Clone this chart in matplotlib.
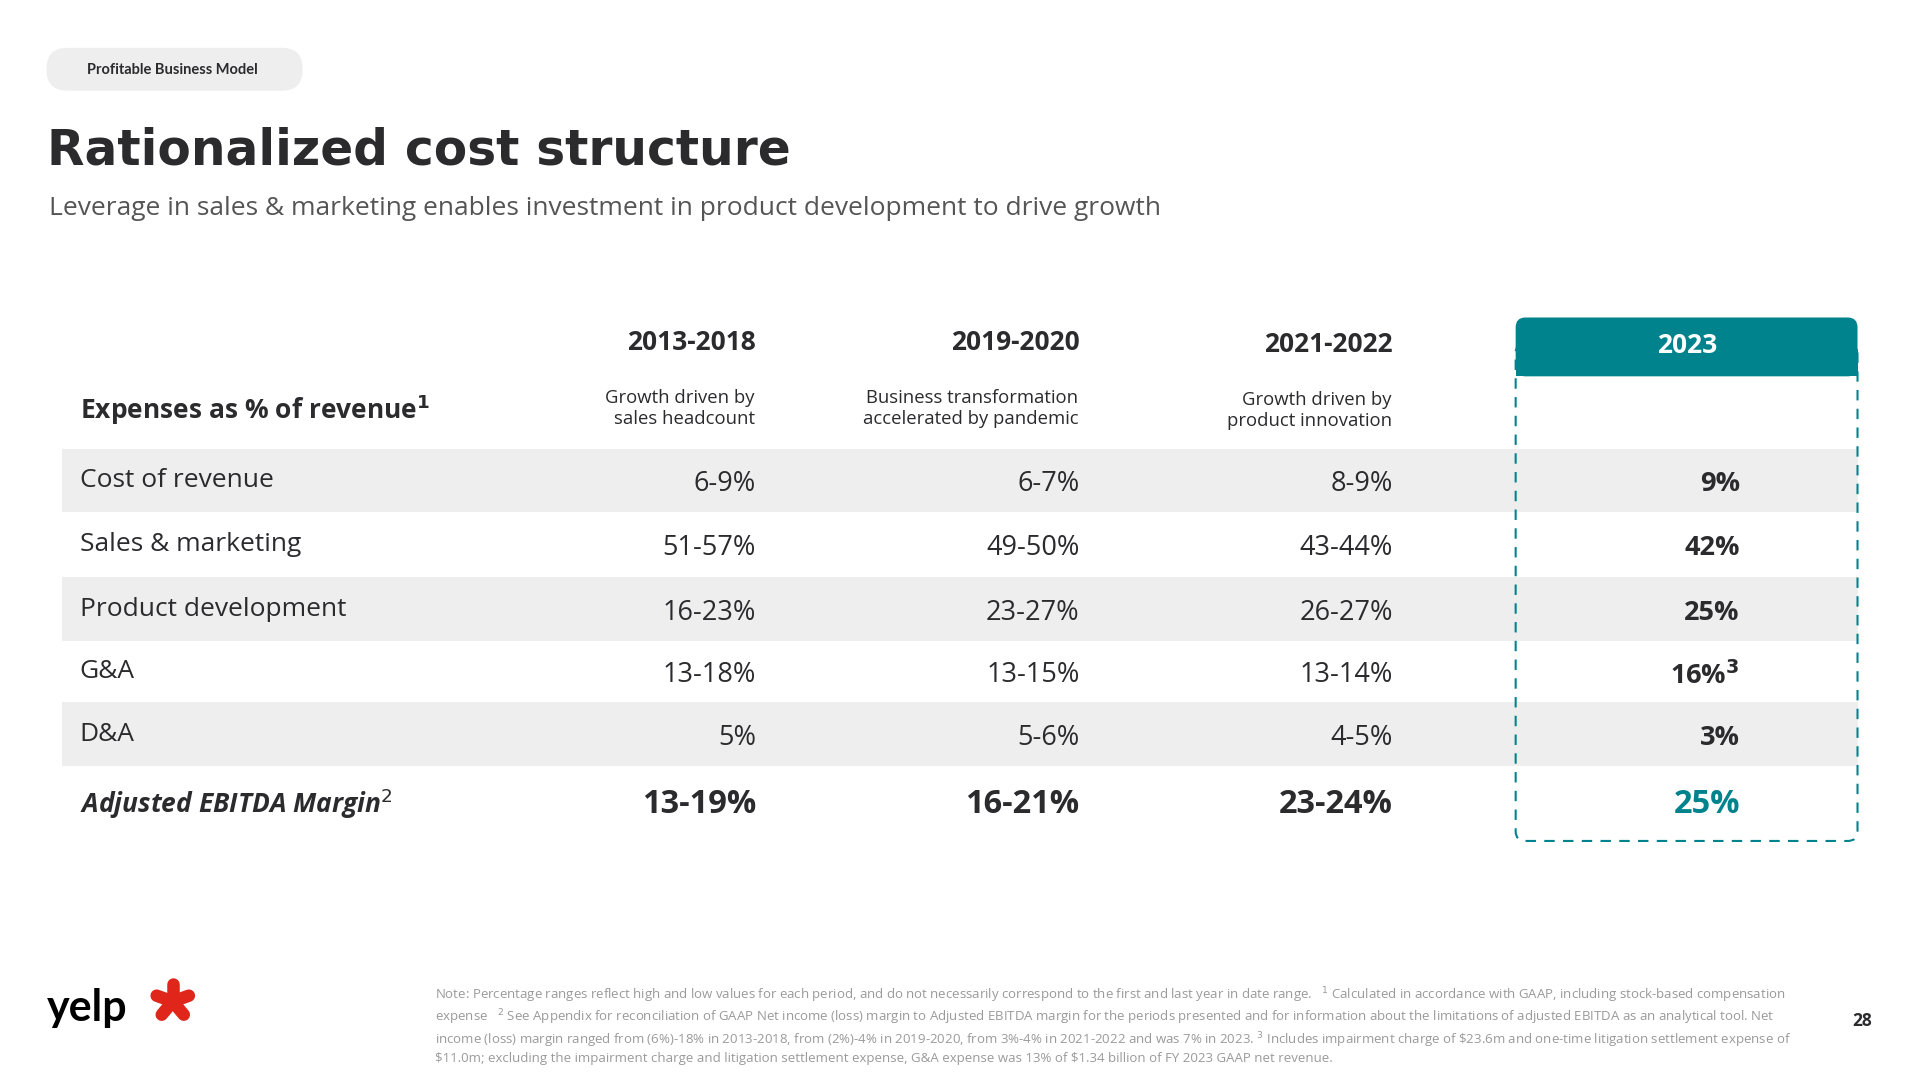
import matplotlib.pyplot as plt
from matplotlib.patches import FancyBboxPatch, Rectangle
import numpy as np

periods = ['2013-2018', '2019-2020', '2021-2022', '2023']
period_notes = ['Growth driven by\nsales headcount',
                'Business transformation\naccelerated by pandemic',
                'Growth driven by\nproduct innovation', '']
row_labels = ['Cost of revenue', 'Sales & marketing', 'Product development', 'G&A', 'D&A']
values = [
    ['6-9%', '6-7%', '8-9%', '9%'],
    ['51-57%', '49-50%', '43-44%', '42%'],
    ['16-23%', '23-27%', '26-27%', '25%'],
    ['13-18%', '13-15%', '13-14%', r'16%$^{\mathbf{3}}$'],
    ['5%', '5-6%', '4-5%', '3%'],
]
ebitda = ['13-19%', '16-21%', '23-24%', '25%']
footnote = ("Note: Percentage ranges reflect high and low values for each period, and do not necessarily correspond to the first and last year in date range.   $^{1}$ Calculated in accordance with GAAP, including stock-based compensation\n"
            "expense   $^{2}$ See Appendix for reconciliation of GAAP Net income (loss) margin to Adjusted EBITDA margin for the periods presented and for information about the limitations of adjusted EBITDA as an analytical tool. Net\n"
            "income (loss) margin ranged from (6%)-18% in 2013-2018, from (2%)-4% in 2019-2020, from 3%-4% in 2021-2022 and was 7% in 2023. $^{3}$ Includes impairment charge of \\$23.6m and one-time litigation settlement expense of\n"
            "\\$11.0m; excluding the impairment charge and litigation settlement expense, G&A expense was 13% of \\$1.34 billion of FY 2023 GAAP net revenue.")

TEAL = '#00838c'
DARK = '#2b2b2e'
BODY = 'Open Sans'

fig = plt.figure(figsize=(19.2, 10.8), dpi=100)
ax = fig.add_axes([0, 0, 1, 1])
ax.set_xlim(0, 1567)
ax.set_ylim(881, 0)
ax.axis('off')

# pill + titles
ax.add_patch(FancyBboxPatch((38, 39), 209, 35, boxstyle='round,pad=0,rounding_size=17',
                            fc='#eeeeee', ec='none'))
ax.text(71, 57, 'Profitable Business Model', fontsize=10.5, fontweight='bold',
        family='Lato', color=DARK, va='center')
ax.text(38, 123, 'Rationalized cost structure', fontsize=35, fontweight='bold',
        family='DejaVu Sans', color=DARK, va='center')
ax.text(40, 170, 'Leverage in sales & marketing enables investment in product development to drive growth',
        fontsize=19, family=BODY, color='#555555', va='center')

# row bands
row_y = [392, 444, 497, 548, 599]
band_h = [52, 53, 52, 50, 52]
for i, (y, h) in enumerate(zip(row_y, band_h)):
    if i % 2 == 0:
        ax.add_patch(Rectangle((51, y - h / 2), 1465, h, fc='#eeeeee', ec='none'))

# 2023 highlight
ax.add_patch(FancyBboxPatch((1237, 280), 279, 406, boxstyle='round,pad=0,rounding_size=8',
                            fc='none', ec=TEAL, lw=1.5, ls=(0, (5, 4))))
ax.add_patch(FancyBboxPatch((1237, 259), 279, 48, boxstyle='round,pad=0,rounding_size=8',
                            fc=TEAL, ec='none'))
ax.add_patch(Rectangle((1237, 285), 279, 22, fc=TEAL, ec='none'))

col_x = [617, 881, 1137, 1420]
head_y = [279, 279, 281, 282]
for j, (p, n) in enumerate(zip(periods, period_notes)):
    if j < 3:
        ax.text(col_x[j], head_y[j], p, ha='right', va='center', fontsize=19,
                fontweight='bold', family=BODY, color=DARK)
        ax.text(col_x[j] - 1, 333 + (j == 2) * 2, n, ha='right', va='center', fontsize=13.3,
                family=BODY, color=DARK, linespacing=1.2)
    else:
        ax.text(1377, 282, p, ha='center', va='center', fontsize=19,
                fontweight='bold', family=BODY, color='white')

ax.text(65, 334, r'Expenses as % of revenue$^{\mathbf{1}}$', fontsize=19, fontweight='bold',
        family=BODY, color=DARK, va='center')

for i, lab in enumerate(row_labels):
    y = row_y[i]
    ax.text(65, y, lab, fontsize=19, family=BODY, color=DARK, va='center')
    for j in range(4):
        ax.text(col_x[j], y + 3, values[i][j], ha='right', va='center', fontsize=19.5,
                family=BODY, color=DARK, fontweight='bold' if j == 3 else 'normal')

ax.text(65, 656, r'Adjusted EBITDA Margin$^{2}$', fontsize=19, fontweight='bold',
        fontstyle='italic', family=BODY, color=DARK, va='center')
for j in range(4):
    ax.text(col_x[j], 656, ebitda[j], ha='right', va='center', fontsize=23.5,
            fontweight='bold', family=BODY, color=TEAL if j == 3 else DARK)

# yelp logo
ax.text(38, 822, 'yelp', fontsize=31, fontweight='bold', family='Lato', color='black',
        va='center')
cx, cy = 141, 817
for ang in [90, 20, -50, -130, 160]:
    a = np.deg2rad(ang)
    ax.plot([cx + 5 * np.cos(a), cx + 14 * np.cos(a)], [cy - 5 * np.sin(a), cy - 14 * np.sin(a)],
            color='#e0251b', lw=9, solid_capstyle='round')

ax.text(355, 836, footnote, fontsize=9.5, family=BODY, color='#9a9a9a', va='center',
        linespacing=1.2)
ax.text(1528, 833, '28', fontsize=12.5, fontweight='bold', family=BODY, color=DARK,
        ha='right', va='center')

fig.savefig('out.png', dpi=100)
